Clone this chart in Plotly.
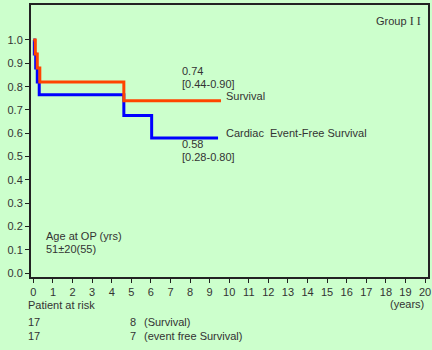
import plotly.graph_objects as go

# ---- data ----
surv_t = [0, 0.1, 0.2, 0.33, 4.62, 9.58]
surv_s = [1.0, 0.94, 0.88, 0.82, 0.74, 0.74]
efs_t = [0, 0.05, 0.12, 0.2, 0.3, 4.62, 6.04, 9.43]
efs_s = [1.0, 0.94, 0.88, 0.82, 0.765, 0.676, 0.58, 0.58]
x_ticks = list(range(0, 21))
y_ticks = [i / 10 for i in range(0, 11)]
y_labels = ["%.1f" % v for v in y_ticks]

BG = "#CCFFCC"
TXT = "#333333"
FONT = "Liberation Sans, Arial, sans-serif"

W, H = 432, 350
L, R, T, B = 31, 430, 5, 277


def px(xp):
    return (xp - L) / (R - L)


def py(yp):
    return (B - yp) / (B - T)


fig = go.Figure()
fig.add_trace(go.Scatter(x=efs_t, y=efs_s, mode="lines", line=dict(shape="hv", color="#0000FF", width=3),
                         showlegend=False, hoverinfo="skip"))
fig.add_trace(go.Scatter(x=surv_t, y=surv_s, mode="lines", line=dict(shape="hv", color="#FF4400", width=3),
                         showlegend=False, hoverinfo="skip"))

ann = []


def add(text, xp, yp, xanchor="left", size=11):
    ann.append(dict(text=text, x=px(xp), y=py(yp), xref="paper", yref="paper", xanchor=xanchor,
                    yanchor="middle", showarrow=False, font=dict(size=size, color=TXT, family=FONT)))


add("0.74", 181, 71)
add("[0.44-0.90]", 181, 84)
add("Survival", 225, 96)
add("Cardiac  Event-Free Survival", 225, 133)
add("0.58", 181, 144)
add("[0.28-0.80]", 181, 157)
add("Group <span style='font-family:Liberation Serif;font-size:12px'>I I</span>", 425, 21, xanchor="right")
add("Age at OP (yrs)", 44, 236)
add("51±20(55)", 44, 249)
add("Patient at risk", 26, 305)
add("(years)", 428, 304, xanchor="right")
add("17", 26, 322)
add("17", 26, 336)
add("8", 128, 322)
add("7", 128, 336)
add("(Survival)", 143, 322)
add("(event free Survival)", 143, 336)

fig.update_layout(
    width=W, height=H,
    margin=dict(l=L, r=W - R, t=T, b=H - B, pad=0),
    paper_bgcolor=BG, plot_bgcolor=BG,
    font=dict(family=FONT, size=11, color=TXT),
    annotations=ann,
    xaxis=dict(range=[-0.12, 20.15], tickvals=x_ticks, ticktext=[str(v) for v in x_ticks],
               showgrid=False, zeroline=False, showline=True, linecolor="#222222", linewidth=2,
               mirror=True, ticks="outside", ticklen=4, tickwidth=1, tickcolor="#222222",
               tickfont=dict(size=11, color=TXT, family=FONT)),
    yaxis=dict(range=[-0.016, 1.15], tickvals=y_ticks, ticktext=y_labels,
               showgrid=False, zeroline=False, showline=True, linecolor="#222222", linewidth=2,
               mirror=True, ticks="outside", ticklen=4, tickwidth=1, tickcolor="#222222",
               tickfont=dict(size=11, color=TXT, family=FONT)),
)

fig.write_html("out.html", config={"displayModeBar": False},
               post_script="document.body.style.margin='0';document.body.style.overflow='hidden';")
